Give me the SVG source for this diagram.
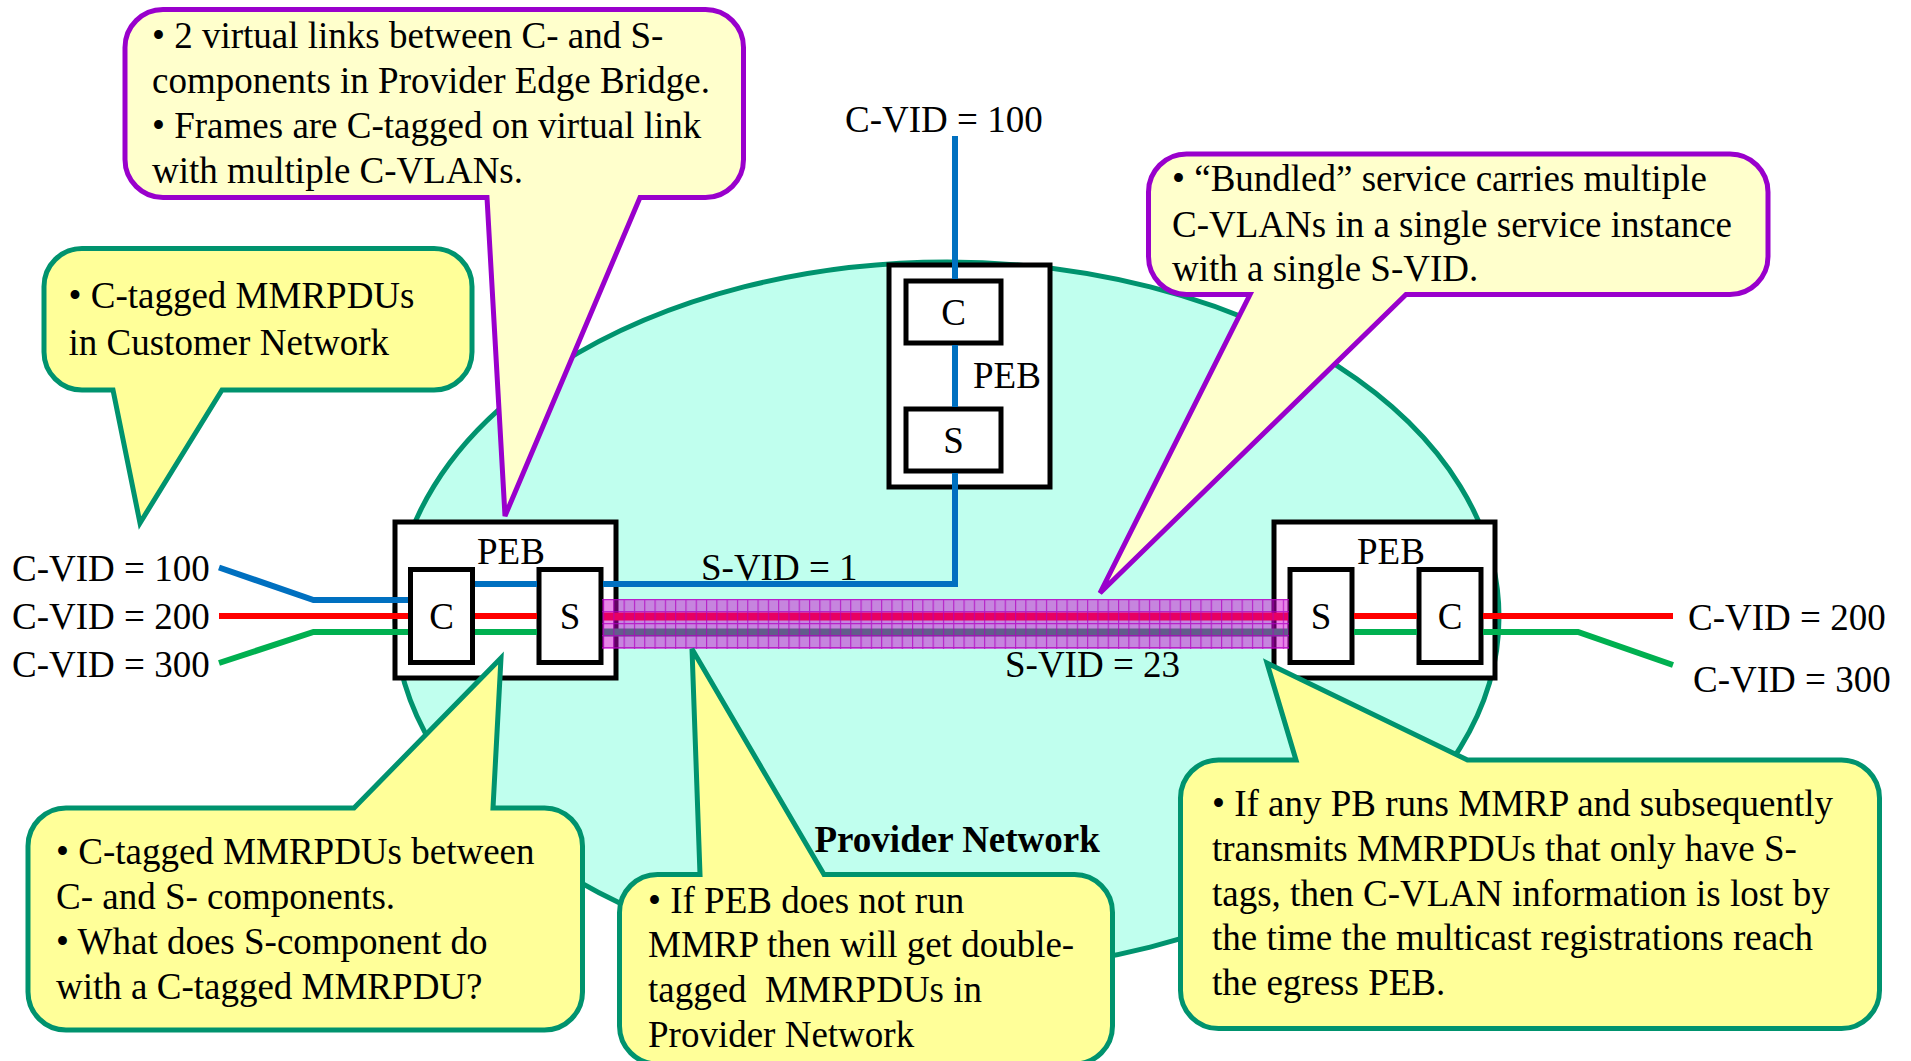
<svg xmlns="http://www.w3.org/2000/svg" width="1911" height="1061" viewBox="0 0 1911 1061">
<style>
text{font-family:"Liberation Serif","Times New Roman",serif;font-size:37px;fill:#000}
.mid{text-anchor:middle}
.bold{font-weight:bold}
.box{fill:#fff;stroke:#000;stroke-width:5}
.cp{fill:#FFFFCC;stroke:#9900CC;stroke-width:5;stroke-linejoin:miter}
.cg{fill:#FFFF99;stroke:#00936E;stroke-width:5;stroke-linejoin:miter}
.ln{fill:none;stroke-width:6}
.thick{stroke-width:8}
.blue{stroke:#0070C0}
.red{stroke:#FF0000}
.green{stroke:#00B050}
</style>
<defs>
<pattern id="grid" x="603" y="599" width="10.3" height="12" patternUnits="userSpaceOnUse">
<path d="M0.5 0 V12 M0 0.5 H10.3" stroke="#B000C0" stroke-width="1.3" fill="none"/>
</pattern>
</defs>
<rect width="1911" height="1061" fill="#fff"/>
<g id="provider-network">
<ellipse cx="947" cy="617" rx="552" ry="355" fill="#C0FFEE" stroke="#00936E" stroke-width="5"/>
</g>
<g id="peb-left">
<rect class="box" x="395" y="522" width="221" height="156"/>
<text x="477" y="564">PEB</text>
<rect class="box" x="410.5" y="569.5" width="62" height="93"/>
<text class="mid" x="441.5" y="629">C</text>
<rect class="box" x="539" y="569.5" width="62" height="93"/>
<text class="mid" x="570" y="629">S</text>
</g>
<g id="peb-top">
<rect class="box" x="889" y="265" width="161" height="222"/>
<rect class="box" x="906" y="281" width="95" height="62"/>
<text class="mid" x="953.5" y="325">C</text>
<rect class="box" x="906" y="409" width="95" height="62"/>
<text class="mid" x="953.5" y="453">S</text>
<text x="973" y="388">PEB</text>
</g>
<g id="peb-right">
<rect class="box" x="1274" y="522" width="221" height="156"/>
<text x="1357" y="564">PEB</text>
<rect class="box" x="1290" y="569.5" width="62" height="93"/>
<text class="mid" x="1321" y="629">S</text>
<rect class="box" x="1419" y="569.5" width="62" height="93"/>
<text class="mid" x="1450" y="629">C</text>
</g>
<g id="connectors">
<polyline class="ln blue" points="219,567.5 313.5,600 408,600"/>
<line class="ln red" x1="219" y1="616" x2="408" y2="616"/>
<polyline class="ln green" points="219,663 313.5,632 408,632"/>
<line class="ln blue" x1="475" y1="584" x2="537" y2="584"/>
<line class="ln red" x1="475" y1="616" x2="537" y2="616"/>
<line class="ln green" x1="475" y1="632" x2="537" y2="632"/>
<polyline class="ln blue" points="603,584 955,584 955,473"/>
<line class="ln blue" x1="955" y1="136" x2="955" y2="279"/>
<line class="ln blue" x1="955" y1="345" x2="955" y2="407"/>
<line class="ln thick red" x1="603" y1="616.5" x2="1288" y2="616.5"/>
<line class="ln thick green" x1="603" y1="632.5" x2="1288" y2="632.5"/>
<line class="ln red" x1="1354" y1="616" x2="1417" y2="616"/>
<line class="ln green" x1="1354" y1="632" x2="1417" y2="632"/>
<line class="ln red" x1="1483" y1="616" x2="1673" y2="616"/>
<polyline class="ln green" points="1483,632 1578,632 1673,665"/>
<g id="s-vid-band">
<rect x="602" y="599" width="687" height="50" fill="#CC00CC" fill-opacity="0.48"/>
<rect x="602" y="599" width="687" height="50" fill="url(#grid)" opacity="0.75"/>
</g>
</g>
<g id="labels">
<text x="845" y="132">C-VID = 100</text>
<text x="12" y="581">C-VID = 100</text>
<text x="12" y="628.5">C-VID = 200</text>
<text x="12" y="676.5">C-VID = 300</text>
<text x="1688" y="629.5">C-VID = 200</text>
<text x="1693" y="692">C-VID = 300</text>
<text x="701" y="580">S-VID = 1</text>
<text x="1005" y="677">S-VID = 23</text>
</g>
<g id="callout-virtual-links">
<path class="cp" d="M163,9.5 H705.5 A38,38 0 0 1 743.5,47.5 V159.5 A38,38 0 0 1 705.5,197.5 H640 L505,516 L487,197.5 H163 A38,38 0 0 1 125,159.5 V47.5 A38,38 0 0 1 163,9.5 Z"/>
<text x="152" y="48">• 2 virtual links between C- and S-</text>
<text x="152" y="93">components in Provider Edge Bridge.</text>
<text x="152" y="138">• Frames are C-tagged on virtual link</text>
<text x="152" y="182.5">with multiple C-VLANs.</text>
</g>
<g id="callout-customer">
<path class="cg" d="M82,248.5 H434 A38,38 0 0 1 472,286.5 V352 A38,38 0 0 1 434,390 H222 L140,523 L113,390 H82 A38,38 0 0 1 44,352 V286.5 A38,38 0 0 1 82,248.5 Z"/>
<text x="68.5" y="308">• C-tagged MMRPDUs</text>
<text x="68.5" y="354.5">in Customer Network</text>
</g>
<g id="callout-bundled">
<path class="cp" d="M1186.5,154 H1730 A38,38 0 0 1 1768,192 V256.5 A38,38 0 0 1 1730,294.5 H1406 L1100,593 L1250,294.5 H1186.5 A38,38 0 0 1 1148.5,256.5 V192 A38,38 0 0 1 1186.5,154 Z"/>
<text x="1172" y="191">• “Bundled” service carries multiple</text>
<text x="1172" y="237">C-VLANs in a single service instance</text>
<text x="1172" y="281">with a single S-VID.</text>
</g>
<g id="callout-c-to-s">
<path class="cg" d="M66,808 H354 L501,658 L493,808 H544.5 A38,38 0 0 1 582.5,846 V992 A38,38 0 0 1 544.5,1030 H66 A38,38 0 0 1 28,992 V846 A38,38 0 0 1 66,808 Z"/>
<text x="56" y="864">• C-tagged MMRPDUs between</text>
<text x="56" y="909">C- and S- components.</text>
<text x="56" y="954">• What does S-component do</text>
<text x="56" y="998.5">with a C-tagged MMRPDU?</text>
</g>
<g id="callout-double-tagged">
<path class="cg" d="M657.5,874.5 H700 L692,649 L824,874.5 H1074.5 A38,38 0 0 1 1112.5,912.5 V1026 A38,38 0 0 1 1074.5,1064 H657.5 A38,38 0 0 1 619.5,1026 V912.5 A38,38 0 0 1 657.5,874.5 Z"/>
<text x="648" y="912.5">• If PEB does not run</text>
<text x="648" y="957">MMRP then will get double-</text>
<text x="648" y="1002" xml:space="preserve">tagged  MMRPDUs in</text>
<text x="648" y="1047">Provider Network</text>
</g>
<g id="callout-lost">
<path class="cg" d="M1218.5,760 H1296 L1267,663 L1467.5,760 H1841.5 A38,38 0 0 1 1879.5,798 V990.5 A38,38 0 0 1 1841.5,1028.5 H1218.5 A38,38 0 0 1 1180.5,990.5 V798 A38,38 0 0 1 1218.5,760 Z"/>
<text x="1212" y="816">• If any PB runs MMRP and subsequently</text>
<text x="1212" y="861">transmits MMRPDUs that only have S-</text>
<text x="1212" y="905.5">tags, then C-VLAN information is lost by</text>
<text x="1212" y="950">the time the multicast registrations reach</text>
<text x="1212" y="995">the egress PEB.</text>
</g>
<g id="network-label">
<text class="bold" x="814.5" y="852">Provider Network</text>
</g>
</svg>
